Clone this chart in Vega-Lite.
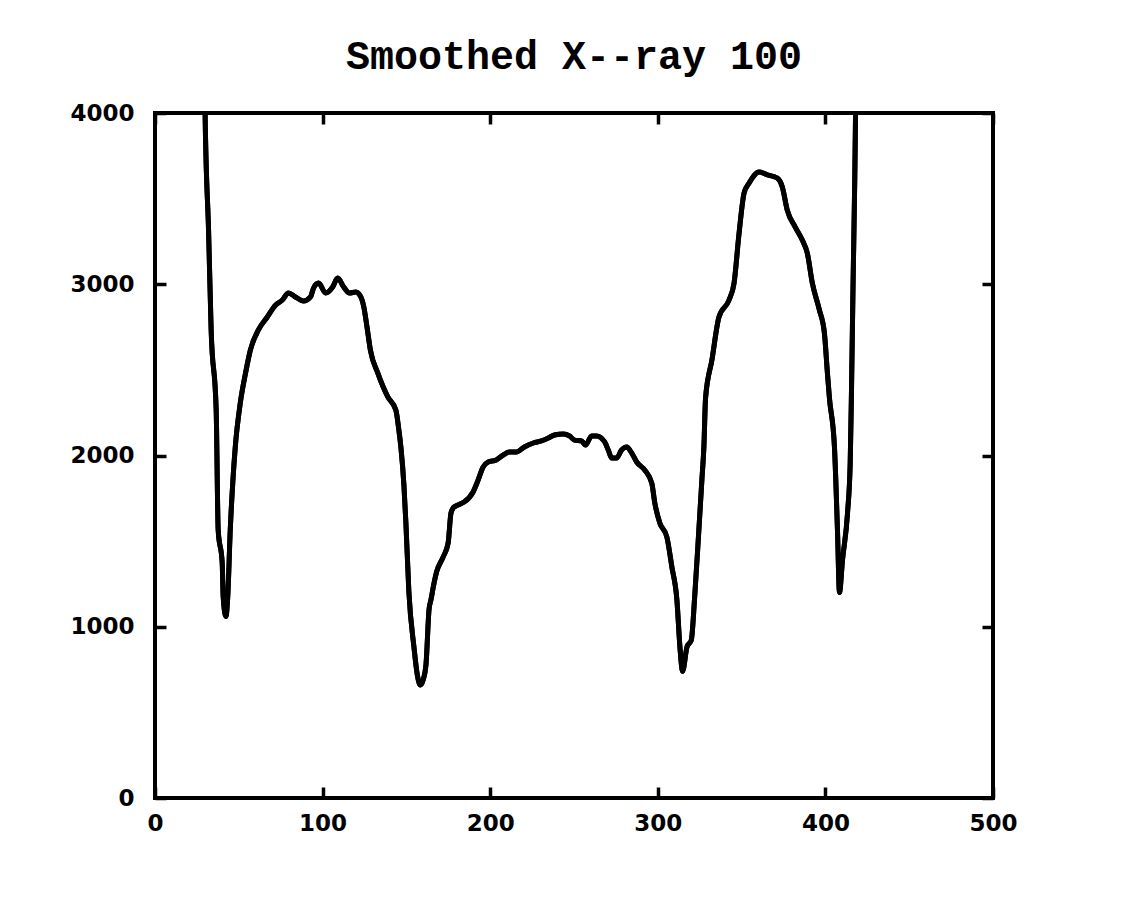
{
  "$schema": "https://vega.github.io/schema/vega-lite/v6.json",
  "autosize": "none",
  "width": 838,
  "height": 685,
  "padding": {"left": 155, "top": 113, "right": 155, "bottom": 111},
  "background": "white",
  "title": {
    "text": "Smoothed X--ray 100",
    "font": "Liberation Mono",
    "fontWeight": "bold",
    "fontSize": 40,
    "color": "black",
    "anchor": "middle",
    "baseline": "alphabetic",
    "offset": -7
  },
  "data": {
    "values": [
      {"pos": 29.5, "val": 4300}, {"pos": 29.9, "val": 4000}, {"pos": 32, "val": 3300}, {"pos": 33.5, "val": 2733},
      {"pos": 36.5, "val": 2266}, {"pos": 37.7, "val": 1565}, {"pos": 40.1, "val": 1372}, {"pos": 40.7, "val": 1174},
      {"pos": 42.3, "val": 1060}, {"pos": 43.4, "val": 1174}, {"pos": 44.9, "val": 1565}, {"pos": 46.5, "val": 1857},
      {"pos": 47.9, "val": 2050}, {"pos": 50.9, "val": 2307}, {"pos": 54, "val": 2480}, {"pos": 56.9, "val": 2616},
      {"pos": 61.7, "val": 2733}, {"pos": 67, "val": 2809}, {"pos": 72, "val": 2879}, {"pos": 76, "val": 2908},
      {"pos": 79.6, "val": 2949}, {"pos": 83.8, "val": 2926}, {"pos": 88.6, "val": 2902}, {"pos": 92.8, "val": 2926},
      {"pos": 94.6, "val": 2978}, {"pos": 97.6, "val": 3007}, {"pos": 101.8, "val": 2949}, {"pos": 106, "val": 2984},
      {"pos": 109, "val": 3036}, {"pos": 112.6, "val": 2984}, {"pos": 116, "val": 2949}, {"pos": 119.8, "val": 2955},
      {"pos": 122.8, "val": 2926}, {"pos": 124.6, "val": 2867}, {"pos": 126.5, "val": 2750}, {"pos": 128.5, "val": 2616},
      {"pos": 132.9, "val": 2482}, {"pos": 138.9, "val": 2342}, {"pos": 143.7, "val": 2266}, {"pos": 145.5, "val": 2149},
      {"pos": 146.7, "val": 2050}, {"pos": 148.5, "val": 1830}, {"pos": 149.7, "val": 1606}, {"pos": 151.5, "val": 1200},
      {"pos": 154.5, "val": 882}, {"pos": 156.5, "val": 720}, {"pos": 158.3, "val": 660}, {"pos": 160, "val": 690},
      {"pos": 161.7, "val": 780}, {"pos": 163.5, "val": 1100}, {"pos": 164.7, "val": 1160}, {"pos": 166.5, "val": 1255},
      {"pos": 168, "val": 1320}, {"pos": 171.9, "val": 1407}, {"pos": 174.9, "val": 1489}, {"pos": 176.6, "val": 1664},
      {"pos": 178, "val": 1695}, {"pos": 180.8, "val": 1711}, {"pos": 184.4, "val": 1728}, {"pos": 189.8, "val": 1787},
      {"pos": 192.8, "val": 1857}, {"pos": 195.8, "val": 1933}, {"pos": 198.8, "val": 1962}, {"pos": 203.6, "val": 1974},
      {"pos": 207.8, "val": 2003}, {"pos": 211.4, "val": 2020}, {"pos": 215.6, "val": 2020}, {"pos": 220.4, "val": 2050},
      {"pos": 225.7, "val": 2073}, {"pos": 230.5, "val": 2085}, {"pos": 234.7, "val": 2102}, {"pos": 238.3, "val": 2120},
      {"pos": 243.7, "val": 2126}, {"pos": 247.3, "val": 2114}, {"pos": 250.3, "val": 2090}, {"pos": 254.5, "val": 2085},
      {"pos": 256.9, "val": 2061}, {"pos": 260.5, "val": 2114}, {"pos": 263.5, "val": 2114}, {"pos": 268.3, "val": 2079},
      {"pos": 270.5, "val": 2030}, {"pos": 272.5, "val": 1985}, {"pos": 275.4, "val": 1985}, {"pos": 278.4, "val": 2032},
      {"pos": 281.4, "val": 2050}, {"pos": 284.4, "val": 2015}, {"pos": 287.4, "val": 1962}, {"pos": 292.2, "val": 1915},
      {"pos": 296.4, "val": 1839}, {"pos": 298.2, "val": 1723}, {"pos": 301.2, "val": 1606}, {"pos": 305.4, "val": 1524},
      {"pos": 308.4, "val": 1349}, {"pos": 311.4, "val": 1156}, {"pos": 313.2, "val": 882}, {"pos": 314.8, "val": 740},
      {"pos": 317.4, "val": 882}, {"pos": 320, "val": 923}, {"pos": 322, "val": 1174}, {"pos": 324.5, "val": 1565},
      {"pos": 326.3, "val": 1857}, {"pos": 327.5, "val": 2050}, {"pos": 328.5, "val": 2336}, {"pos": 332.3, "val": 2558},
      {"pos": 336.5, "val": 2809}, {"pos": 342.5, "val": 2908}, {"pos": 345.5, "val": 3007}, {"pos": 348.5, "val": 3299},
      {"pos": 351.5, "val": 3533}, {"pos": 354.5, "val": 3591}, {"pos": 360.5, "val": 3655}, {"pos": 365, "val": 3640},
      {"pos": 371.3, "val": 3620}, {"pos": 374.3, "val": 3568}, {"pos": 377.2, "val": 3434}, {"pos": 382, "val": 3334},
      {"pos": 386.2, "val": 3258}, {"pos": 389.2, "val": 3182}, {"pos": 392.2, "val": 3007}, {"pos": 396.4, "val": 2850},
      {"pos": 399.4, "val": 2715}, {"pos": 401.2, "val": 2482}, {"pos": 402.4, "val": 2336}, {"pos": 405.4, "val": 2050},
      {"pos": 407.2, "val": 1565}, {"pos": 408.4, "val": 1200}, {"pos": 410.2, "val": 1390}, {"pos": 413.2, "val": 1664},
      {"pos": 414.8, "val": 1956}, {"pos": 415.6, "val": 2400}, {"pos": 416.5, "val": 3000}, {"pos": 417.5, "val": 3600},
      {"pos": 418, "val": 4000}, {"pos": 418.3, "val": 4300}
    ]
  },
  "layer": [
    {
      "mark": {"type": "line", "color": "black", "strokeWidth": 5, "clip": true, "interpolate": "monotone", "strokeJoin": "round", "strokeCap": "round"},
      "encoding": {
        "x": {"field": "pos", "type": "quantitative", "sort": null,
              "scale": {"domain": [0, 500], "nice": false, "zero": false},
              "axis": {"orient": "bottom", "title": null, "format": "d", "values": [0, 100, 200, 300, 400, 500], "labelPadding": 25, "labelBaseline": "top"}},
        "y": {"field": "val", "type": "quantitative",
              "scale": {"domain": [0, 4000], "nice": false},
              "axis": {"orient": "left", "title": null, "format": "d", "values": [0, 1000, 2000, 3000, 4000], "labelPadding": 32}},
        "order": {"field": "pos", "type": "quantitative"}
      }
    },
    {
      "mark": {"type": "line", "color": "black", "strokeWidth": 5, "clip": true, "interpolate": "monotone", "strokeJoin": "round", "strokeCap": "round"},
      "encoding": {
        "x": {"field": "pos", "type": "quantitative",
              "axis": {"orient": "top", "title": null, "labels": false, "values": [0, 100, 200, 300, 400, 500]}},
        "y": {"field": "val", "type": "quantitative",
              "axis": {"orient": "right", "title": null, "labels": false, "values": [0, 1000, 2000, 3000, 4000]}},
        "order": {"field": "pos", "type": "quantitative"}
      }
    }
  ],
  "resolve": {"axis": {"x": "independent", "y": "independent"}},
  "config": {
    "view": {"stroke": "black", "strokeWidth": 4},
    "axis": {
      "grid": false,
      "domain": false,
      "ticks": true,
      "tickColor": "black",
      "tickWidth": 3.5,
      "tickSize": -11,
      "labelFont": "DejaVu Sans",
      "labelFontWeight": "bold",
      "labelFontSize": 23,
      "labelColor": "black",
      "labelFlush": false,
      "labelOverlap": false,
      "labelBound": false
    }
  }
}
